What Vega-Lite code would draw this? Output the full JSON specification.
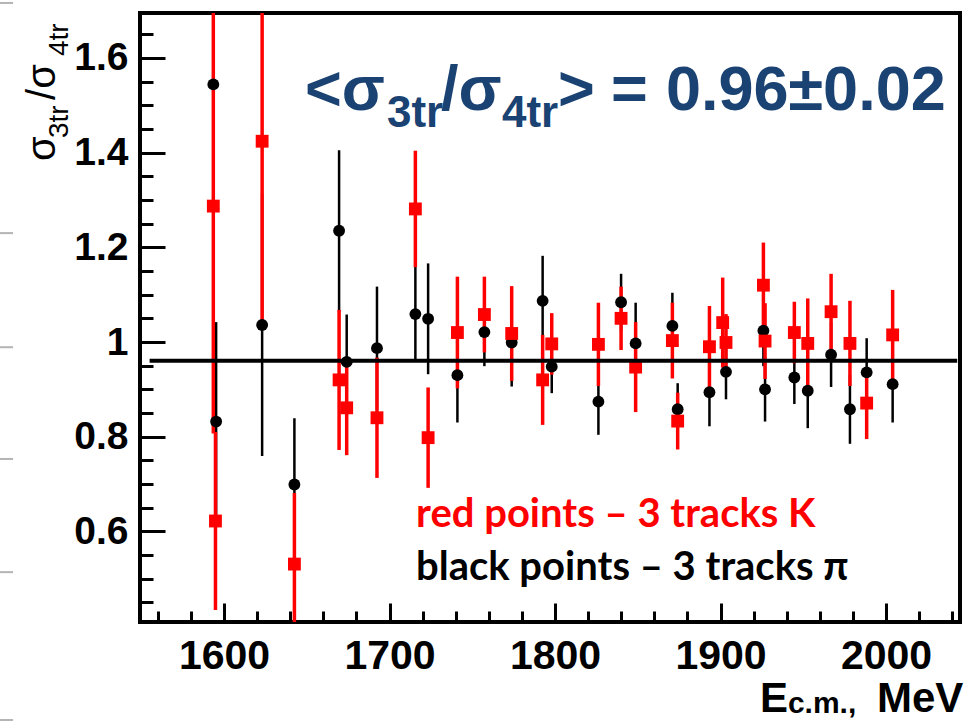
{
  "$schema": "https://vega.github.io/schema/vega-lite/v6.json",
  "width": 820,
  "height": 609,
  "autosize": {"type": "none"},
  "padding": {"left": 140, "top": 13, "right": 7, "bottom": 99},
  "background": "white",
  "config": {"view": {"stroke": "black", "strokeWidth": 4}},
  "datasets": {
    "black": [
      {"E": 1593.5, "v": 1.544, "lo": 1.244, "hi": 1.844},
      {"E": 1595.2, "v": 0.832, "lo": 0.622, "hi": 1.042},
      {"E": 1623.0, "v": 1.036, "lo": 0.759, "hi": 1.313},
      {"E": 1642.5, "v": 0.699, "lo": 0.559, "hi": 0.839},
      {"E": 1669.5, "v": 1.235, "lo": 1.065, "hi": 1.405},
      {"E": 1674.1, "v": 0.958, "lo": 0.858, "hi": 1.058},
      {"E": 1692.4, "v": 0.987, "lo": 0.857, "hi": 1.117},
      {"E": 1715.6, "v": 1.059, "lo": 0.959, "hi": 1.159},
      {"E": 1723.3, "v": 1.049, "lo": 0.932, "hi": 1.166},
      {"E": 1741.0, "v": 0.930, "lo": 0.830, "hi": 1.030},
      {"E": 1757.3, "v": 1.021, "lo": 0.949, "hi": 1.093},
      {"E": 1773.8, "v": 0.999, "lo": 0.906, "hi": 1.092},
      {"E": 1792.5, "v": 1.087, "lo": 0.992, "hi": 1.182},
      {"E": 1798.0, "v": 0.948, "lo": 0.892, "hi": 1.004},
      {"E": 1826.2, "v": 0.874, "lo": 0.804, "hi": 0.944},
      {"E": 1839.9, "v": 1.084, "lo": 1.024, "hi": 1.144},
      {"E": 1848.7, "v": 0.997, "lo": 0.911, "hi": 1.083},
      {"E": 1870.9, "v": 1.034, "lo": 0.964, "hi": 1.104},
      {"E": 1874.1, "v": 0.858, "lo": 0.803, "hi": 0.913},
      {"E": 1893.3, "v": 0.894, "lo": 0.822, "hi": 0.966},
      {"E": 1903.3, "v": 0.937, "lo": 0.879, "hi": 0.995},
      {"E": 1925.9, "v": 1.024, "lo": 0.949, "hi": 1.099},
      {"E": 1926.9, "v": 0.900, "lo": 0.832, "hi": 0.968},
      {"E": 1944.6, "v": 0.925, "lo": 0.869, "hi": 0.981},
      {"E": 1952.7, "v": 0.897, "lo": 0.818, "hi": 0.976},
      {"E": 1966.8, "v": 0.973, "lo": 0.905, "hi": 1.041},
      {"E": 1978.2, "v": 0.858, "lo": 0.785, "hi": 0.931},
      {"E": 1988.3, "v": 0.936, "lo": 0.864, "hi": 1.008},
      {"E": 2004.0, "v": 0.911, "lo": 0.830, "hi": 0.992}
    ],
    "red": [
      {"E": 1593.5, "v": 1.287, "lo": 0.807, "hi": 1.767},
      {"E": 1594.8, "v": 0.622, "lo": 0.434, "hi": 0.810},
      {"E": 1623.0, "v": 1.424, "lo": 1.047, "hi": 1.801},
      {"E": 1642.5, "v": 0.531, "lo": 0.381, "hi": 0.681},
      {"E": 1669.5, "v": 0.920, "lo": 0.772, "hi": 1.068},
      {"E": 1674.1, "v": 0.861, "lo": 0.761, "hi": 0.961},
      {"E": 1692.4, "v": 0.840, "lo": 0.713, "hi": 0.967},
      {"E": 1715.6, "v": 1.281, "lo": 1.158, "hi": 1.404},
      {"E": 1723.3, "v": 0.798, "lo": 0.692, "hi": 0.904},
      {"E": 1741.0, "v": 1.020, "lo": 0.902, "hi": 1.138},
      {"E": 1757.3, "v": 1.058, "lo": 0.978, "hi": 1.138},
      {"E": 1773.8, "v": 1.018, "lo": 0.918, "hi": 1.118},
      {"E": 1792.5, "v": 0.920, "lo": 0.825, "hi": 1.015},
      {"E": 1798.0, "v": 0.996, "lo": 0.931, "hi": 1.061},
      {"E": 1826.2, "v": 0.995, "lo": 0.907, "hi": 1.083},
      {"E": 1839.9, "v": 1.050, "lo": 0.983, "hi": 1.117},
      {"E": 1848.7, "v": 0.947, "lo": 0.852, "hi": 1.042},
      {"E": 1870.9, "v": 1.003, "lo": 0.923, "hi": 1.083},
      {"E": 1874.1, "v": 0.833, "lo": 0.773, "hi": 0.893},
      {"E": 1893.3, "v": 0.990, "lo": 0.904, "hi": 1.076},
      {"E": 1901.3, "v": 1.041, "lo": 0.946, "hi": 1.136},
      {"E": 1903.3, "v": 0.999, "lo": 0.939, "hi": 1.059},
      {"E": 1925.9, "v": 1.120, "lo": 1.030, "hi": 1.210},
      {"E": 1926.9, "v": 1.002, "lo": 0.922, "hi": 1.082},
      {"E": 1944.6, "v": 1.020, "lo": 0.955, "hi": 1.085},
      {"E": 1952.7, "v": 0.997, "lo": 0.902, "hi": 1.092},
      {"E": 1966.8, "v": 1.064, "lo": 0.984, "hi": 1.144},
      {"E": 1978.2, "v": 0.997, "lo": 0.907, "hi": 1.087},
      {"E": 1988.3, "v": 0.871, "lo": 0.795, "hi": 0.947},
      {"E": 2004.0, "v": 1.015, "lo": 0.920, "hi": 1.110}
    ],
    "mean": [{"x1": 1555, "x2": 2043, "v": 0.9605}],
    "edge": [
      {"x1": 1464.6, "x2": 1472.5, "v": 1.716},
      {"x1": 1464.6, "x2": 1472.5, "v": 1.230},
      {"x1": 1464.6, "x2": 1472.5, "v": 0.989},
      {"x1": 1464.6, "x2": 1472.5, "v": 0.753},
      {"x1": 1464.6, "x2": 1472.5, "v": 0.514},
      {"x1": 1464.6, "x2": 1472.5, "v": 0.2017}
    ],
    "bigBlue": [
      {"E": 1648.9, "v": 1.4899, "t": "<σ"},
      {"E": 1731.1, "v": 1.4899, "t": "/σ"},
      {"E": 1801.8, "v": 1.4899, "t": ">"},
      {"E": 1833.8, "v": 1.4899, "t": "="},
      {"E": 1867.0, "v": 1.4899, "t": "0.96±0.02"}
    ],
    "subBlue": [
      {"E": 1698.4, "v": 1.453, "t": "3tr"},
      {"E": 1767.9, "v": 1.453, "t": "4tr"}
    ],
    "legRed": [{"E": 1716.0, "v": 0.6093, "t": "red points – 3 tracks K"}],
    "legBlack": [{"E": 1716.0, "v": 0.4973, "t": "black points – 3 tracks π"}],
    "xTitleMain": [
      {"E": 1923.8, "v": 0.2186, "t": "E"},
      {"E": 1994.5, "v": 0.2186, "t": "MeV"}
    ],
    "xTitleSub": [{"E": 1940.7, "v": 0.2155, "t": "c.m.,"}],
    "yTitleMain": [
      {"E": 1497.8, "v": 1.3822, "t": "σ"},
      {"E": 1497.8, "v": 1.5111, "t": "/σ"}
    ],
    "yTitleSub": [
      {"E": 1505.7, "v": 1.4308, "t": "3tr"},
      {"E": 1505.7, "v": 1.604, "t": "4tr"}
    ]
  },
  "resolve": {"axis": {"x": "independent", "y": "independent"}},
  "layer": [
    {
      "data": {"name": "black"},
      "mark": {"type": "rule", "color": "black", "strokeWidth": 2.5, "clip": true},
      "encoding": {
        "x": {"field": "E", "type": "quantitative",
              "scale": {"domain": [1549.2, 2044.7], "nice": false, "zero": false},
              "axis": {"orient": "bottom", "values": [1560, 1580, 1620, 1640, 1660, 1680, 1720, 1740, 1760, 1780, 1820, 1840, 1860, 1880, 1920, 1940, 1960, 1980, 2020, 2040],
                       "labels": false, "tickSize": -11, "tickWidth": 3, "tickColor": "black", "domain": false, "grid": false, "title": null}},
        "y": {"field": "lo", "type": "quantitative",
              "scale": {"domain": [0.4087, 1.6948], "nice": false, "zero": false},
              "axis": {"orient": "left", "values": [0.45, 0.5, 0.55, 0.65, 0.7, 0.75, 0.85, 0.9, 0.95, 1.05, 1.1, 1.15, 1.25, 1.3, 1.35, 1.45, 1.5, 1.55, 1.65],
                       "labels": false, "tickSize": -13, "tickWidth": 3, "tickColor": "black", "domain": false, "grid": false, "title": null}},
        "y2": {"field": "hi"}
      }
    },
    {
      "data": {"name": "red"},
      "mark": {"type": "rule", "color": "#ff0000", "strokeWidth": 3.5, "clip": true},
      "encoding": {
        "x": {"field": "E", "type": "quantitative",
              "scale": {"domain": [1549.2, 2044.7], "nice": false, "zero": false},
              "axis": {"orient": "bottom", "values": [1600, 1700, 1800, 1900, 2000], "format": "d",
                       "tickSize": -19, "tickWidth": 3, "tickColor": "black", "domain": false, "grid": false, "title": null,
                       "labelFont": "Liberation Sans", "labelFontWeight": "bold", "labelFontSize": 41, "labelColor": "black",
                       "labelPadding": 33, "labelOverlap": false, "labelFlush": false}},
        "y": {"field": "lo", "type": "quantitative",
              "scale": {"domain": [0.4087, 1.6948], "nice": false, "zero": false},
              "axis": {"orient": "left", "values": [0.6, 0.8, 1, 1.2, 1.4, 1.6], "format": "~g",
                       "tickSize": -25, "tickWidth": 3, "tickColor": "black", "domain": false, "grid": false, "title": null,
                       "labelFont": "Liberation Sans", "labelFontWeight": "bold", "labelFontSize": 39, "labelColor": "black",
                       "labelPadding": 37, "labelOverlap": false, "labelFlush": false}},
        "y2": {"field": "hi"}
      }
    },
    {
      "data": {"name": "black"},
      "mark": {"type": "point", "shape": "circle", "filled": true, "color": "black", "opacity": 1, "size": 140, "clip": true},
      "encoding": {
        "x": {"field": "E", "type": "quantitative", "scale": {"domain": [1549.2, 2044.7], "nice": false, "zero": false}, "axis": null},
        "y": {"field": "v", "type": "quantitative", "scale": {"domain": [0.4087, 1.6948], "nice": false, "zero": false}, "axis": null}
      }
    },
    {
      "data": {"name": "red"},
      "mark": {"type": "point", "shape": "square", "filled": true, "color": "#ff0000", "opacity": 1, "size": 165, "clip": true},
      "encoding": {
        "x": {"field": "E", "type": "quantitative", "scale": {"domain": [1549.2, 2044.7], "nice": false, "zero": false}, "axis": null},
        "y": {"field": "v", "type": "quantitative", "scale": {"domain": [0.4087, 1.6948], "nice": false, "zero": false}, "axis": null}
      }
    },
    {
      "data": {"name": "mean"},
      "mark": {"type": "rule", "color": "black", "strokeWidth": 4},
      "encoding": {
        "x": {"field": "x1", "type": "quantitative", "scale": {"domain": [1549.2, 2044.7], "nice": false, "zero": false}, "axis": null},
        "x2": {"field": "x2"},
        "y": {"field": "v", "type": "quantitative", "scale": {"domain": [0.4087, 1.6948], "nice": false, "zero": false}, "axis": null}
      }
    },
    {
      "data": {"name": "edge"},
      "mark": {"type": "rule", "color": "#b4b4b4", "strokeWidth": 2},
      "encoding": {
        "x": {"field": "x1", "type": "quantitative", "scale": {"domain": [1549.2, 2044.7], "nice": false, "zero": false}, "axis": null},
        "x2": {"field": "x2"},
        "y": {"field": "v", "type": "quantitative", "scale": {"domain": [0.4087, 1.6948], "nice": false, "zero": false}, "axis": null}
      }
    },
    {
      "data": {"name": "bigBlue"},
      "mark": {"type": "text", "font": "Liberation Sans", "fontWeight": "bold", "fontSize": 63, "color": "#1a4272", "align": "left", "baseline": "alphabetic"},
      "encoding": {
        "x": {"field": "E", "type": "quantitative", "scale": {"domain": [1549.2, 2044.7], "nice": false, "zero": false}, "axis": null},
        "y": {"field": "v", "type": "quantitative", "scale": {"domain": [0.4087, 1.6948], "nice": false, "zero": false}, "axis": null},
        "text": {"field": "t"}
      }
    },
    {
      "data": {"name": "subBlue"},
      "mark": {"type": "text", "font": "Liberation Sans", "fontWeight": "bold", "fontSize": 44, "color": "#1a4272", "align": "left", "baseline": "alphabetic"},
      "encoding": {
        "x": {"field": "E", "type": "quantitative", "scale": {"domain": [1549.2, 2044.7], "nice": false, "zero": false}, "axis": null},
        "y": {"field": "v", "type": "quantitative", "scale": {"domain": [0.4087, 1.6948], "nice": false, "zero": false}, "axis": null},
        "text": {"field": "t"}
      }
    },
    {
      "data": {"name": "legRed"},
      "mark": {"type": "text", "font": "Lato, 'Noto Sans', sans-serif", "fontWeight": "bold", "fontSize": 40, "color": "#ff0000", "align": "left", "baseline": "alphabetic"},
      "encoding": {
        "x": {"field": "E", "type": "quantitative", "scale": {"domain": [1549.2, 2044.7], "nice": false, "zero": false}, "axis": null},
        "y": {"field": "v", "type": "quantitative", "scale": {"domain": [0.4087, 1.6948], "nice": false, "zero": false}, "axis": null},
        "text": {"field": "t"}
      }
    },
    {
      "data": {"name": "legBlack"},
      "mark": {"type": "text", "font": "Lato, 'Noto Sans', sans-serif", "fontWeight": "bold", "fontSize": 40, "color": "black", "align": "left", "baseline": "alphabetic"},
      "encoding": {
        "x": {"field": "E", "type": "quantitative", "scale": {"domain": [1549.2, 2044.7], "nice": false, "zero": false}, "axis": null},
        "y": {"field": "v", "type": "quantitative", "scale": {"domain": [0.4087, 1.6948], "nice": false, "zero": false}, "axis": null},
        "text": {"field": "t"}
      }
    },
    {
      "data": {"name": "xTitleMain"},
      "mark": {"type": "text", "font": "Liberation Sans", "fontWeight": "bold", "fontSize": 42, "color": "black", "align": "left", "baseline": "alphabetic"},
      "encoding": {
        "x": {"field": "E", "type": "quantitative", "scale": {"domain": [1549.2, 2044.7], "nice": false, "zero": false}, "axis": null},
        "y": {"field": "v", "type": "quantitative", "scale": {"domain": [0.4087, 1.6948], "nice": false, "zero": false}, "axis": null},
        "text": {"field": "t"}
      }
    },
    {
      "data": {"name": "xTitleSub"},
      "mark": {"type": "text", "font": "Liberation Sans", "fontWeight": "bold", "fontSize": 30, "color": "black", "align": "left", "baseline": "alphabetic"},
      "encoding": {
        "x": {"field": "E", "type": "quantitative", "scale": {"domain": [1549.2, 2044.7], "nice": false, "zero": false}, "axis": null},
        "y": {"field": "v", "type": "quantitative", "scale": {"domain": [0.4087, 1.6948], "nice": false, "zero": false}, "axis": null},
        "text": {"field": "t"}
      }
    },
    {
      "data": {"name": "yTitleMain"},
      "mark": {"type": "text", "font": "Liberation Sans", "fontSize": 40, "color": "black", "align": "left", "baseline": "alphabetic", "angle": 270},
      "encoding": {
        "x": {"field": "E", "type": "quantitative", "scale": {"domain": [1549.2, 2044.7], "nice": false, "zero": false}, "axis": null},
        "y": {"field": "v", "type": "quantitative", "scale": {"domain": [0.4087, 1.6948], "nice": false, "zero": false}, "axis": null},
        "text": {"field": "t"}
      }
    },
    {
      "data": {"name": "yTitleSub"},
      "mark": {"type": "text", "font": "Liberation Sans", "fontSize": 28, "color": "black", "align": "left", "baseline": "alphabetic", "angle": 270},
      "encoding": {
        "x": {"field": "E", "type": "quantitative", "scale": {"domain": [1549.2, 2044.7], "nice": false, "zero": false}, "axis": null},
        "y": {"field": "v", "type": "quantitative", "scale": {"domain": [0.4087, 1.6948], "nice": false, "zero": false}, "axis": null},
        "text": {"field": "t"}
      }
    }
  ]
}
